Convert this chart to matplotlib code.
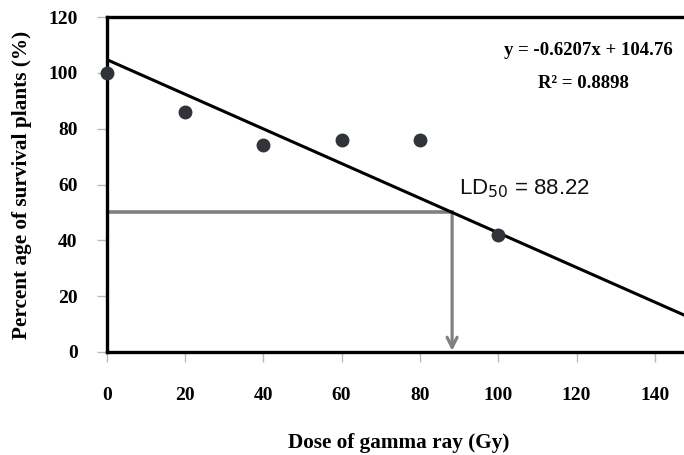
import matplotlib
matplotlib.use('Agg')
import matplotlib.pyplot as plt
import numpy as np

# data
dose = [0, 20, 40, 60, 80, 100]
survival = [100, 86, 74, 76, 76, 42]
slope = -0.6207
intercept = 104.76
ld50 = 88.22
x_ticks = [0, 20, 40, 60, 80, 100, 120, 140]
y_ticks = [0, 20, 40, 60, 80, 100, 120]

serif = ['Liberation Serif', 'DejaVu Serif']


def main():
    fig = plt.figure(figsize=(6.84, 4.55), dpi=100)
    ax = fig.add_axes([0.156, 0.2264, 0.8443, 0.7362])

    xmax = 147.5
    ax.set_xlim(0, xmax)
    ax.set_ylim(0, 120)

    # regression line
    xs = np.array([0, xmax])
    ax.plot(xs, slope * xs + intercept, color='black', lw=2.2, zorder=3)

    # LD50 guide lines
    ax.plot([0, ld50], [50, 50], color='#808080', lw=2.6, zorder=2)
    ax.annotate('', xy=(ld50, 0.4), xytext=(ld50, 50),
                arrowprops=dict(arrowstyle='->', color='#808080', lw=2.3,
                                mutation_scale=18, shrinkA=0, shrinkB=0),
                zorder=2)

    ax.plot(dose, survival, 'o', color='#303438', markersize=9, zorder=4, clip_on=False)

    for side in ['left', 'bottom', 'top']:
        ax.spines[side].set_linewidth(2.4)
        ax.spines[side].set_color('black')
    ax.spines['right'].set_visible(False)

    ax.set_xticks(x_ticks)
    ax.set_yticks(y_ticks)
    ax.tick_params(axis='x', direction='out', length=7, width=1, color='#b8b8b8', pad=18)
    ax.tick_params(axis='y', direction='out', length=7, width=1, color='#b8b8b8', pad=14)
    for lab in ax.get_xticklabels() + ax.get_yticklabels():
        lab.set_fontfamily(serif)
        lab.set_fontweight('bold')
        lab.set_fontsize(14)

    ax.set_xlabel('Dose of gamma ray (Gy)', family=serif, fontweight='bold', fontsize=15.3, va='center')
    ax.set_ylabel('Percent age of survival plants (%)', family=serif, fontweight='bold', fontsize=15.3, va='center')
    ax.xaxis.set_label_coords(0.505, -0.2716)
    ax.yaxis.set_label_coords(-0.1467, 0.5)

    ax.text(0.98, 0.9, 'y = -0.6207x + 104.76', transform=ax.transAxes,
            family=serif, fontweight='bold', fontsize=13.5, ha='right', va='center')
    ax.text(0.826, 0.803, 'R² = 0.8898', transform=ax.transAxes,
            family=serif, fontweight='bold', fontsize=13.5, ha='center', va='center')

    ax.text(90, 58.5, r'LD$_{50}$ = 88.22', family=['Liberation Sans', 'DejaVu Sans'],
            fontsize=16, ha='left', va='center', color='#111111')

    fig.savefig('out.png', dpi=100)


if __name__ == "__main__":
    main()
